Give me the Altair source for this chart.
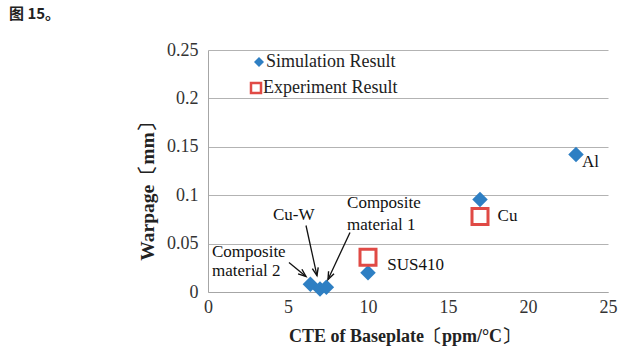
import altair as alt
import pandas as pd
import numpy as np

# ---- data ----
series_names = ["Simulation Result", "Experiment Result"]

sim_names = ["Al", "Cu", "SUS410", "Composite material 2", "Cu-W", "Composite material 1"]
sim_x = [23.0, 17.0, 10.0, 6.4, 7.0, 7.4]
sim_y = [0.142, 0.0955, 0.020, 0.008, 0.003, 0.005]

exp_names = ["Cu", "SUS410"]
exp_x = [17.0, 10.0]
exp_y = [0.078, 0.036]

label_text = ["Al", "Cu", "SUS410", "Cu-W", "Composite", "material 1", "Composite", "material 2"]
label_x = [23.37, 18.1, 11.2, 4.06, 8.69, 8.69, 0.25, 0.25]
label_y = [0.134, 0.079, 0.028, 0.080, 0.0916, 0.0695, 0.0418, 0.0222]

arrow_x_from = [5.06, 6.125, 8.875]
arrow_y_from = [0.0305, 0.0687, 0.0615]
arrow_x_to = [6.125, 6.81, 7.5]
arrow_y_to = [0.016, 0.017, 0.0129]

x_ticks = [0, 5, 10, 15, 20, 25]
y_ticks = [0, 0.05, 0.1, 0.15, 0.2, 0.25]

# ---- geometry ----
W, H = 400, 242
X_DOM, Y_DOM = [0, 25], [0, 0.25]

sim_df = pd.DataFrame({"x": sim_x, "y": sim_y, "name": sim_names, "series": series_names[0]})
exp_df = pd.DataFrame({"x": exp_x, "y": exp_y, "name": exp_names, "series": series_names[1]})
labels = pd.DataFrame({"x": label_x, "y": label_y, "t": label_text})

ax = np.array(arrow_x_from); ay = np.array(arrow_y_from)
bx = np.array(arrow_x_to); by = np.array(arrow_y_to)
dx_px = (bx - ax) * W / (X_DOM[1] - X_DOM[0])
dy_px = -(by - ay) * H / (Y_DOM[1] - Y_DOM[0])
ang = (np.degrees(np.arctan2(dx_px, -dy_px)) + 360) % 360
arrows = pd.DataFrame({"x": ax, "y": ay, "x2": bx, "y2": by, "ang": ang})

SERIF = "Liberation Serif, Times New Roman, DejaVu Serif, serif"
BLUE = "#2e7fc3"
RED = "#e04a45"

xs = alt.Scale(domain=X_DOM, nice=False, zero=False)
ys = alt.Scale(domain=Y_DOM, nice=False, zero=False)

base_x = alt.X("x:Q", scale=xs, axis=alt.Axis(
    values=x_ticks, title="CTE of Baseplate〔ppm/°C〕", grid=False, ticks=False,
    labelFlush=False, labelPadding=6, titleX=196, titleY=44, titleBaseline="middle",
    titleAnchor="start", titleAlign="center", titleFontSize=18))
base_y = alt.Y("y:Q", scale=ys, axis=alt.Axis(
    values=y_ticks, format="~g", title="Warpage〔mm〕", grid=True, ticks=False,
    labelFlush=False, labelPadding=10, titleX=-61, titleY=136, titleBaseline="middle",
    titleAlign="center", titleAnchor="start", titleAngle=270, titleFontSize=19.5))

sim_pts = alt.Chart(sim_df).mark_point(
    shape="diamond", filled=True, color=BLUE, opacity=1, size=240
).encode(x=base_x, y=base_y)

exp_pts = alt.Chart(exp_df).mark_point(
    shape="square", filled=False, color=RED, strokeWidth=3, opacity=1, size=256
).encode(x=alt.X("x:Q", scale=xs), y=alt.Y("y:Q", scale=ys))

text = alt.Chart(labels).mark_text(
    align="left", baseline="middle", font=SERIF, fontSize=17, color="#111"
).encode(x=alt.X("x:Q", scale=xs), y=alt.Y("y:Q", scale=ys), text="t:N")

shafts = alt.Chart(arrows).mark_rule(color="#111", strokeWidth=1.3).encode(
    x=alt.X("x:Q", scale=xs), y=alt.Y("y:Q", scale=ys), x2="x2:Q", y2="y2:Q")

heads = alt.Chart(arrows).mark_point(
    shape="M-1,2.6L0,0L1,2.6", filled=False, stroke="#111", strokeWidth=1.4, size=36, opacity=1
).encode(x=alt.X("x2:Q", scale=xs), y=alt.Y("y2:Q", scale=ys), angle=alt.Angle("ang:Q", scale=None))

# legend (inside plot, top-left)
leg_sim_sym = alt.Chart(pd.DataFrame({"s": [series_names[0]]})).mark_point(
    shape="diamond", filled=True, color=BLUE, opacity=1, size=100
).encode(x=alt.value(51), y=alt.value(12))
leg_exp_sym = alt.Chart(pd.DataFrame({"s": [series_names[1]]})).mark_point(
    shape="square", filled=False, color=RED, strokeWidth=2.5, opacity=1, size=100
).encode(x=alt.value(48), y=alt.value(38))
leg_sim_txt = alt.Chart(pd.DataFrame({"s": [series_names[0]]})).mark_text(
    align="left", baseline="middle", font=SERIF, fontSize=18, color="#222"
).encode(x=alt.value(58), y=alt.value(12), text="s:N")
leg_exp_txt = alt.Chart(pd.DataFrame({"s": [series_names[1]]})).mark_text(
    align="left", baseline="middle", font=SERIF, fontSize=18, color="#222"
).encode(x=alt.value(55), y=alt.value(38), text="s:N")

fig_title = alt.Chart(pd.DataFrame({"t": ["图 15。"]})).mark_text(
    align="left", baseline="middle", font="Noto Sans CJK SC", fontWeight="bold", fontSize=15, color="#222"
).encode(x=alt.value(-199), y=alt.value(-36), text="t:N")

chart = alt.layer(
    sim_pts, exp_pts, shafts, heads, text,
    leg_sim_sym, leg_exp_sym, leg_sim_txt, leg_exp_txt, fig_title
).properties(
    width=W, height=H,
    autosize=alt.AutoSizeParams(type="none"),
    padding={"left": 208, "top": 50, "right": 22, "bottom": 59},
).configure_view(stroke=None).configure_axis(
    labelFont=SERIF, labelFontSize=18, labelColor="#333",
    titleFont=SERIF, titleFontWeight="bold", titleColor="#222",
    domainColor="#a6a6a6", gridColor="#b3b3b3", domainWidth=1, gridWidth=1,
)

chart.save("out.html", embed_options={"renderer": "svg", "actions": False})
